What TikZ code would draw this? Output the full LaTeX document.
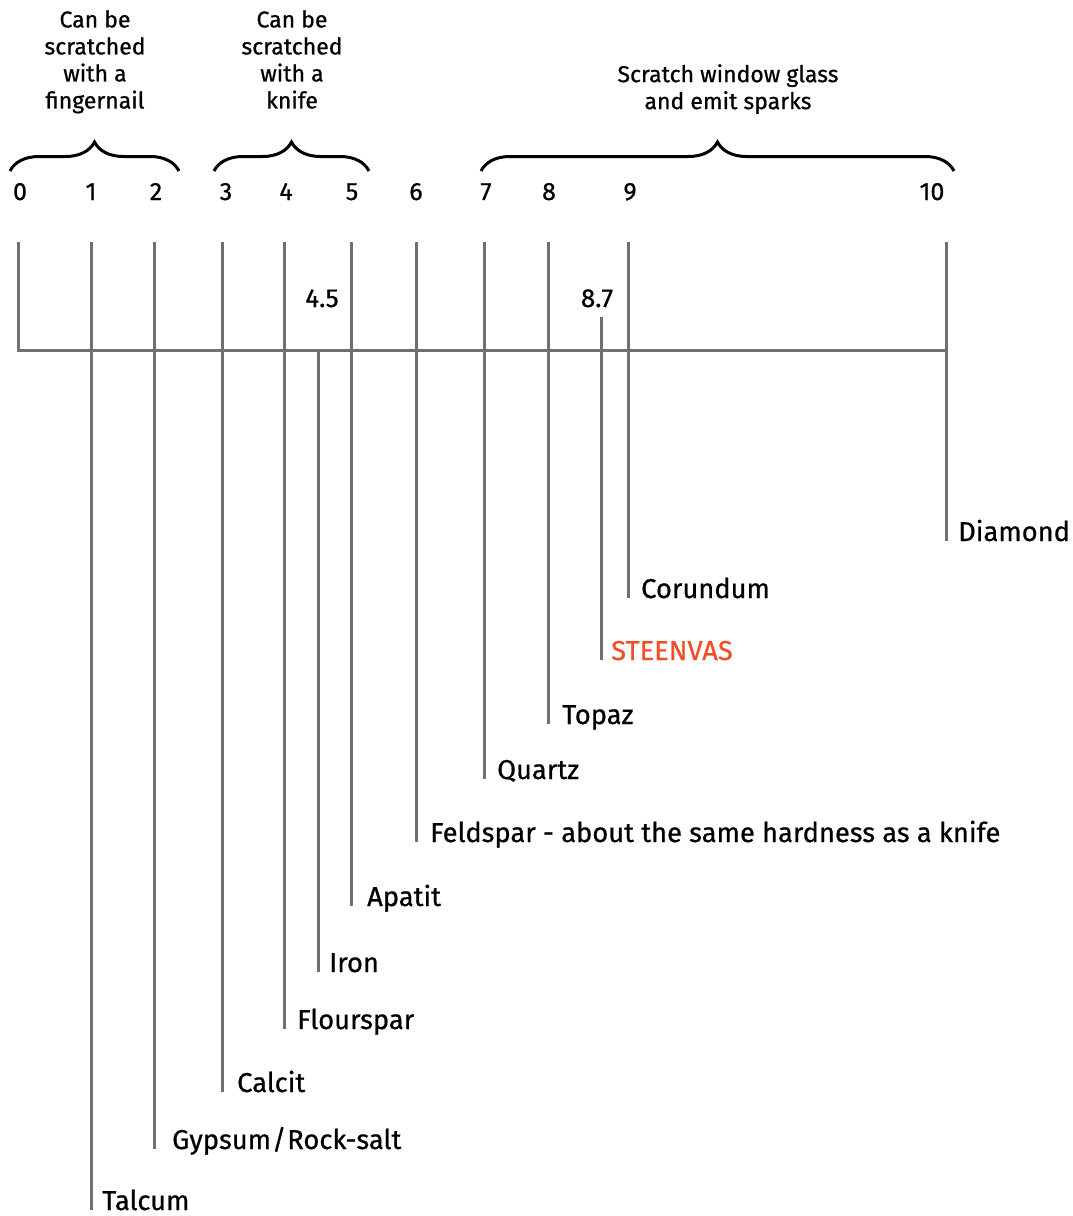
\documentclass[tikz,border=0pt]{standalone}
\usepackage{fontspec}
\setmainfont{Fira Sans}[FakeBold=0.7]
\usetikzlibrary{decorations.pathreplacing}
\definecolor{linegray}{RGB}{112,112,112}
\definecolor{steenred}{RGB}{240,78,42}
\begin{document}
\begin{tikzpicture}[x=1pt,y=-1pt,
  scaleline/.style={draw=linegray, line width=3pt},
  mineral/.style={anchor=base west, inner sep=0pt, font=\fontsize{27.3}{30}\selectfont},
  ticknum/.style={anchor=base, inner sep=0pt, font=\fontsize{25}{28}\selectfont},
  valnum/.style={anchor=base, inner sep=0pt, font=\fontsize{26}{28}\selectfont},
  caption/.style={anchor=north, inner sep=0pt, align=center, font=\fontsize{23}{27}\selectfont},
  bracestyle/.style={draw=black, line width=3pt, decorate, decoration={brace, amplitude=29pt}}]
\useasboundingbox (0,0) rectangle (1073,1216);

% captions
\node[caption] (capA) at (95,10) {Can be\\scratched\\with a\\fingernail};
\node[caption] (capB) at (292,10) {Can be\\scratched\\with a\\knife};
\node[caption] (capC) at (728,64) {Scratch window glass\\and emit sparks};

% braces
\coordinate (bA1) at (10,171); \coordinate (bA2) at (179,171);
\coordinate (bB1) at (214,171); \coordinate (bB2) at (369,171);
\coordinate (bC1) at (481,171); \coordinate (bC2) at (954,171);
\draw[bracestyle] (bA1) -- (bA2);
\draw[bracestyle] (bB1) -- (bB2);
\draw[bracestyle] (bC1) -- (bC2);

% tick numbers
\node[ticknum] (n0) at (20,200) {0};
\node[ticknum] (n1) at (91,200) {1};
\node[ticknum] (n2) at (156,200) {2};
\node[ticknum] (n3) at (226,200) {3};
\node[ticknum] (n4) at (286,200) {4};
\node[ticknum] (n5) at (352,200) {5};
\node[ticknum] (n6) at (416,200) {6};
\node[ticknum] (n7) at (486,200) {7};
\node[ticknum] (n8) at (549,200) {8};
\node[ticknum] (n9) at (630,200) {9};
\node[ticknum] (n10) at (932,200) {10};
\node[valnum] (v45) at (322,307) {4.5};
\node[valnum] (v87) at (597,307) {8.7};

% line tops
\coordinate (t0) at (18,242);
\coordinate (t1) at (91,242);
\coordinate (t2) at (154,242);
\coordinate (t3) at (222,242);
\coordinate (t4) at (284,242);
\coordinate (t45) at (318,350);
\coordinate (t5) at (351,242);
\coordinate (t6) at (416,242);
\coordinate (t7) at (484,242);
\coordinate (t8) at (548,242);
\coordinate (t87) at (601,317);
\coordinate (t9) at (628,242);
\coordinate (t10) at (946,242);
\coordinate (ax0) at (18,350);
\coordinate (ax10) at (946,350);

% mineral labels
\node[mineral] (diamond) at (958,541) {Diamond};
\node[mineral] (corundum) at (641,598) {Corundum};
\node[mineral, text=steenred] (steenvas) at (611,660) {STEENVAS};
\node[mineral] (topaz) at (562,724) {Topaz};
\node[mineral] (quartz) at (497,779) {Quartz};
\node[mineral] (feldspar) at (430,842) {Feldspar - about the same hardness as a knife};
\node[mineral] (apatit) at (367,906) {Apatit};
\node[mineral] (iron) at (329,972) {Iron};
\node[mineral] (flourspar) at (297,1029) {Flourspar};
\node[mineral] (calcit) at (237,1092) {Calcit};
\node[mineral] (gypsum) at (172,1149) {Gypsum\kern1pt/\kern1ptRock-salt};
\node[mineral] (talcum) at (102,1210) {Talcum};

% lines
\draw[scaleline] (t0) -- (ax0) -- (ax10);
\draw[scaleline] (t1) -- (t1 |- talcum.base);
\draw[scaleline] (t2) -- (t2 |- gypsum.base);
\draw[scaleline] (t3) -- (t3 |- calcit.base);
\draw[scaleline] (t4) -- (t4 |- flourspar.base);
\draw[scaleline] (t45) -- (t45 |- iron.base);
\draw[scaleline] (t5) -- (t5 |- apatit.base);
\draw[scaleline] (t6) -- (t6 |- feldspar.base);
\draw[scaleline] (t7) -- (t7 |- quartz.base);
\draw[scaleline] (t8) -- (t8 |- topaz.base);
\draw[scaleline] (t87) -- (t87 |- steenvas.base);
\draw[scaleline] (t9) -- (t9 |- corundum.base);
\draw[scaleline] (t10) -- (t10 |- diamond.base);
\end{tikzpicture}
\end{document}
